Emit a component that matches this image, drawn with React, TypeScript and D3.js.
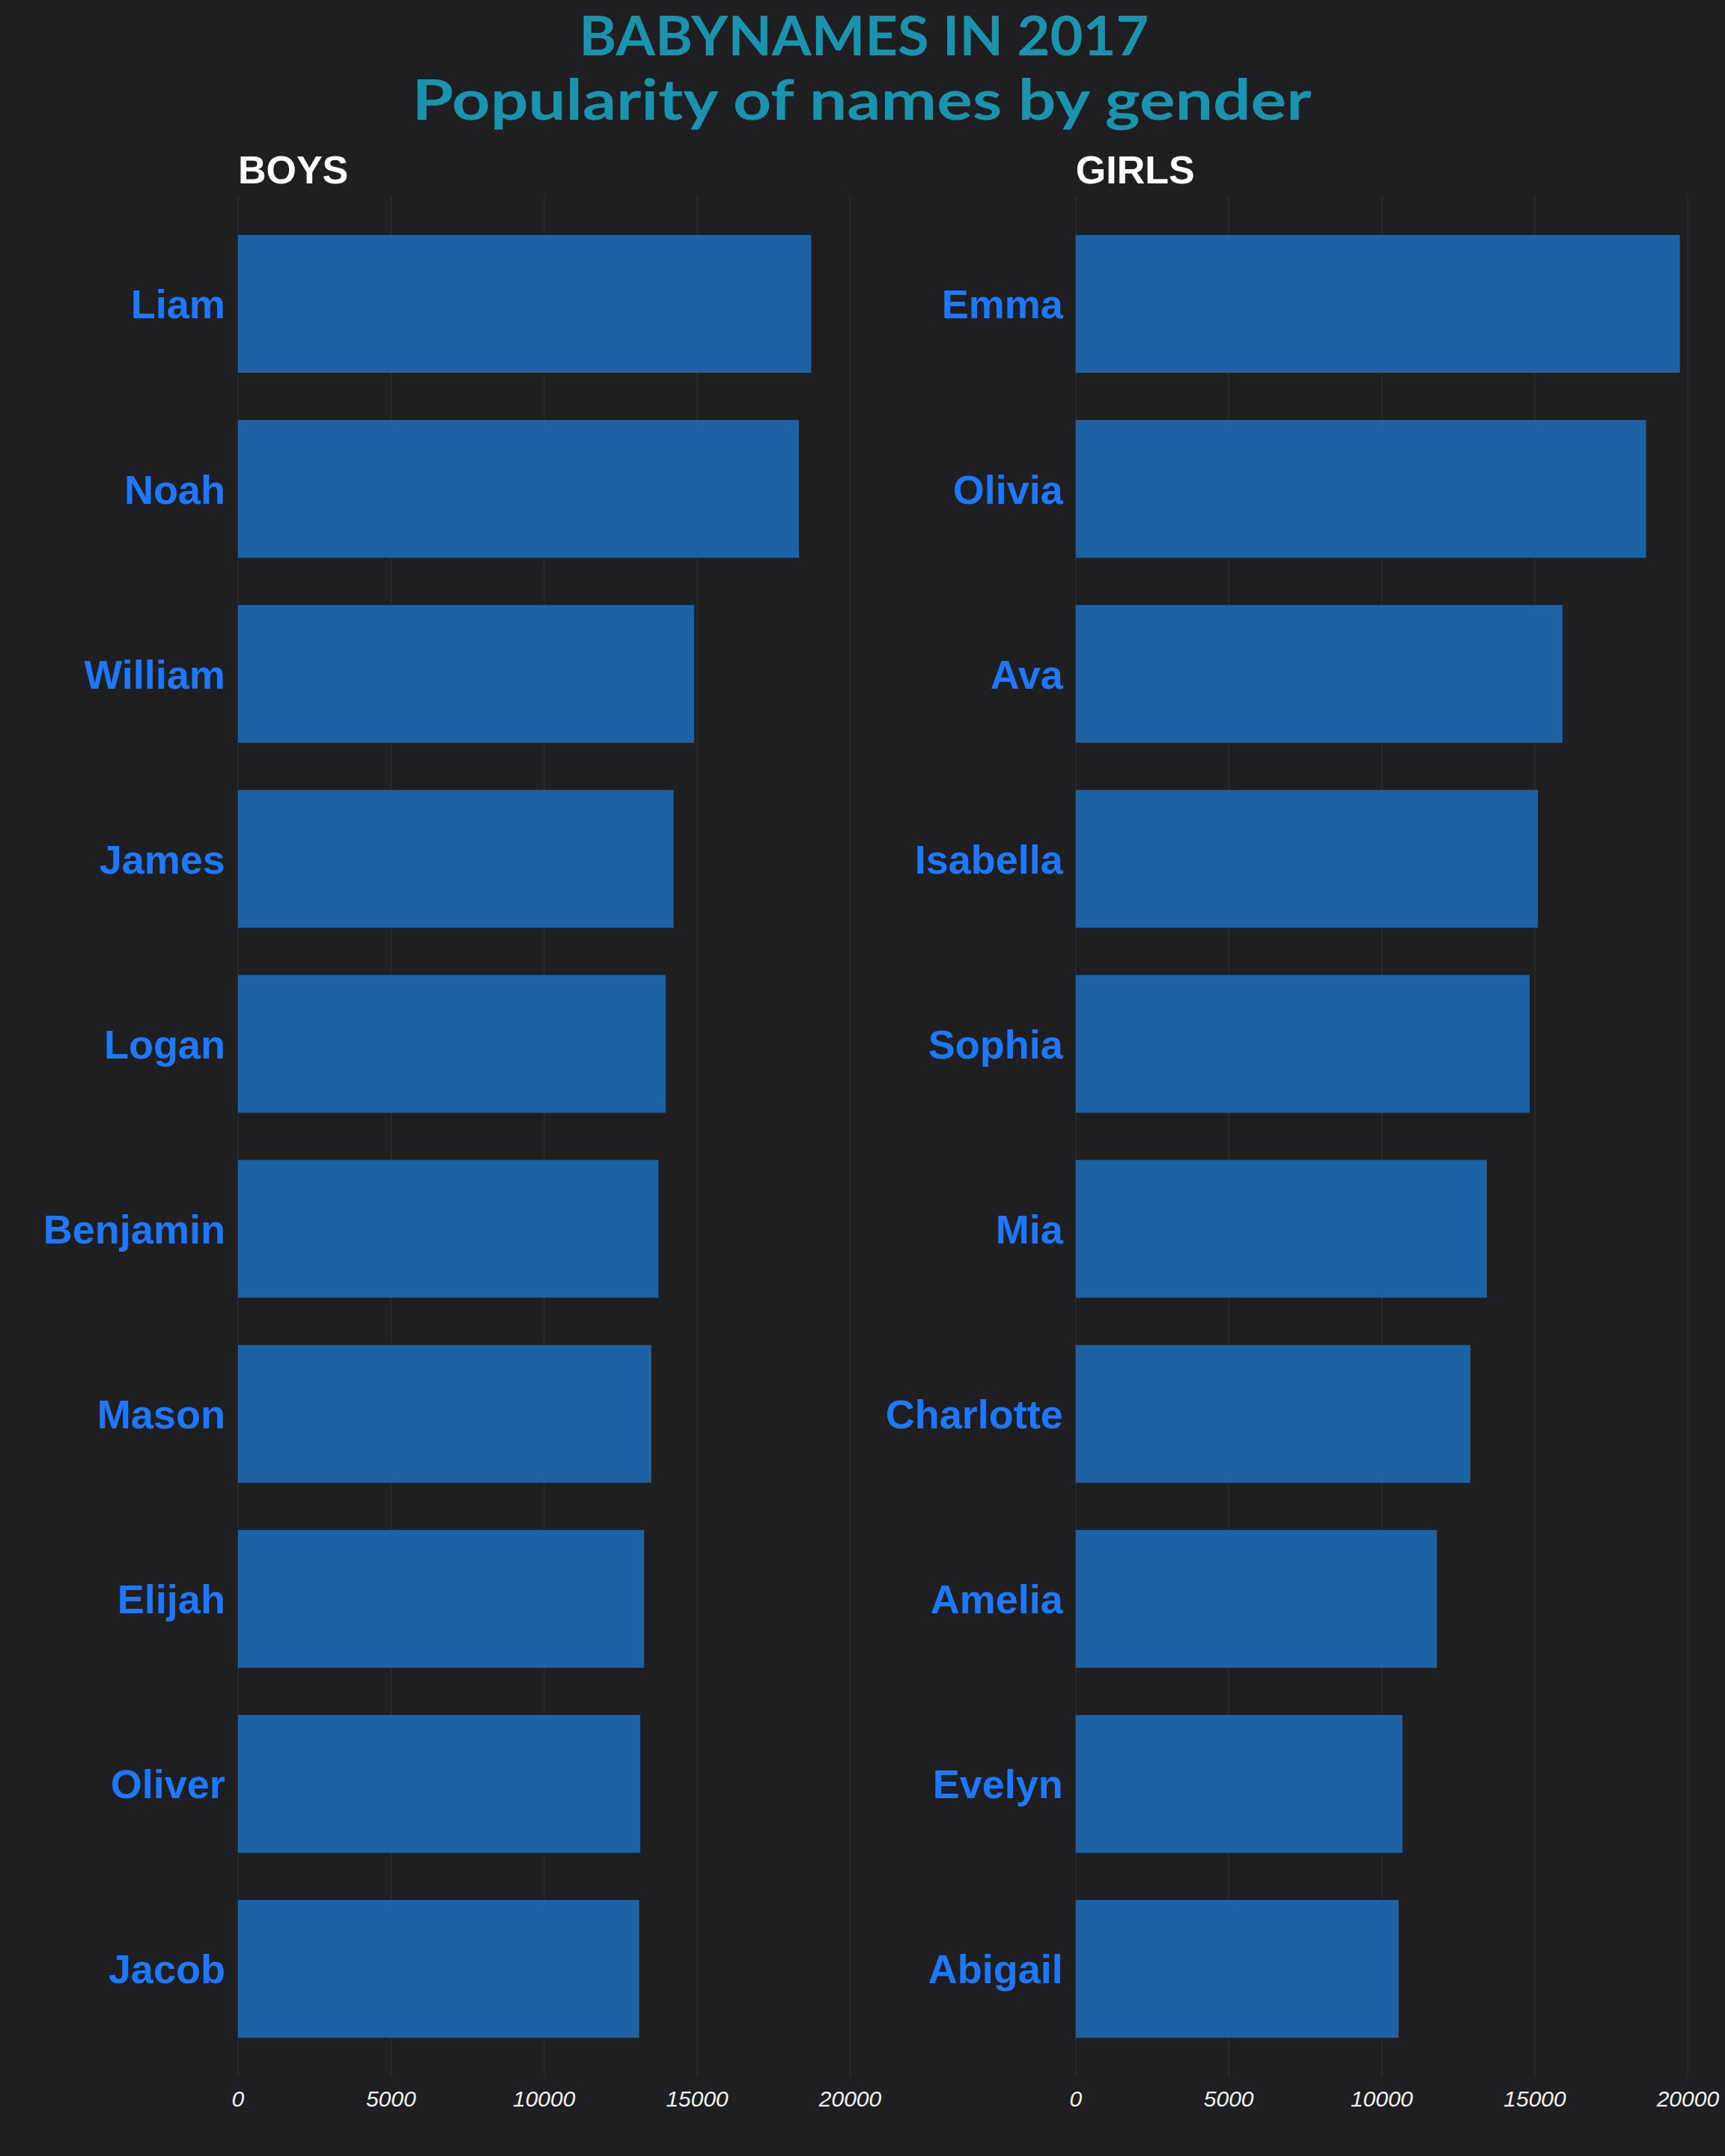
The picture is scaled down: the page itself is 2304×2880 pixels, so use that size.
import React from 'react';
import * as d3 from 'd3';

const boyNames = ['Liam', 'Noah', 'William', 'James', 'Logan', 'Benjamin', 'Mason', 'Elijah', 'Oliver', 'Jacob'];
const boyCounts = [18728, 18326, 14904, 14232, 13974, 13733, 13502, 13268, 13141, 13106];

const girlNames = ['Emma', 'Olivia', 'Ava', 'Isabella', 'Sophia', 'Mia', 'Charlotte', 'Amelia', 'Evelyn', 'Abigail'];
const girlCounts = [19738, 18632, 15902, 15100, 14831, 13437, 12893, 11800, 10675, 10551];

const tickValues = [0, 5000, 10000, 15000, 20000];

const titleLines = ['BABYNAMES IN 2017', 'Popularity of names by gender'];

const W = 2304;
const H = 2880;
const BG = '#1f1f21';
const BAR = '#1d62a5';
const LABEL = '#1e78fb';
const GRID = '#2d2d30';

type PanelProps = { x0: number; title: string; names: string[]; counts: number[] };

const Panel = ({ x0, title, names, counts }: PanelProps) => {
  const x = d3.scaleLinear().domain([0, 20000]).range([x0, x0 + 817.6]);
  const y = d3.scaleBand<string>()
    .domain(names)
    .range([262, 2774])
    .paddingInner(0.255)
    .paddingOuter(0.21);

  return (
    <g>
      <text x={x0} y={245} fill="#ffffff" fontFamily="'Liberation Sans', Arial, sans-serif"
        fontWeight="bold" fontSize={52}>{title}</text>
      {tickValues.map(t => (
        <g key={t}>
          <line x1={x(t)} x2={x(t)} y1={262} y2={2774} stroke={GRID} strokeWidth={1.5} />
          <text x={x(t)} y={2814} textAnchor="middle" fill="#f2f2f2"
            fontFamily="'Liberation Sans', Arial, sans-serif" fontStyle="italic" fontSize={30}>{t}</text>
        </g>
      ))}
      {names.map((n, i) => (
        <g key={n}>
          <rect x={x(0)} y={y(n)} width={x(counts[i]) - x(0)} height={y.bandwidth()} fill={BAR} />
          <text x={x(0) - 17} y={(y(n) as number) + y.bandwidth() / 2} dy="0.36em" textAnchor="end"
            fill={LABEL} fontFamily="'Liberation Sans', Arial, sans-serif" fontWeight="bold" fontSize={54}>{n}</text>
        </g>
      ))}
    </g>
  );
};

export default function App() {
  return (
    <svg width={W} height={H} style={{ position: 'absolute', left: 0, top: 0, display: 'block' }}>
      <rect width={W} height={H} fill={BG} />
      <text x={1154} y={74} textAnchor="middle" fill="#1993ae" fontFamily="Lato, 'Open Sans', sans-serif"
        fontWeight="bold" fontSize={73} textLength={761} lengthAdjust="spacingAndGlyphs">{titleLines[0]}</text>
      <text x={1151} y={160} textAnchor="middle" fill="#1993ae" fontFamily="Lato, 'Open Sans', sans-serif"
        fontWeight="bold" fontSize={74} textLength={1201} lengthAdjust="spacingAndGlyphs">{titleLines[1]}</text>
      <Panel x0={317.9} title="BOYS" names={boyNames} counts={boyCounts} />
      <Panel x0={1436.8} title="GIRLS" names={girlNames} counts={girlCounts} />
    </svg>
  );
}
